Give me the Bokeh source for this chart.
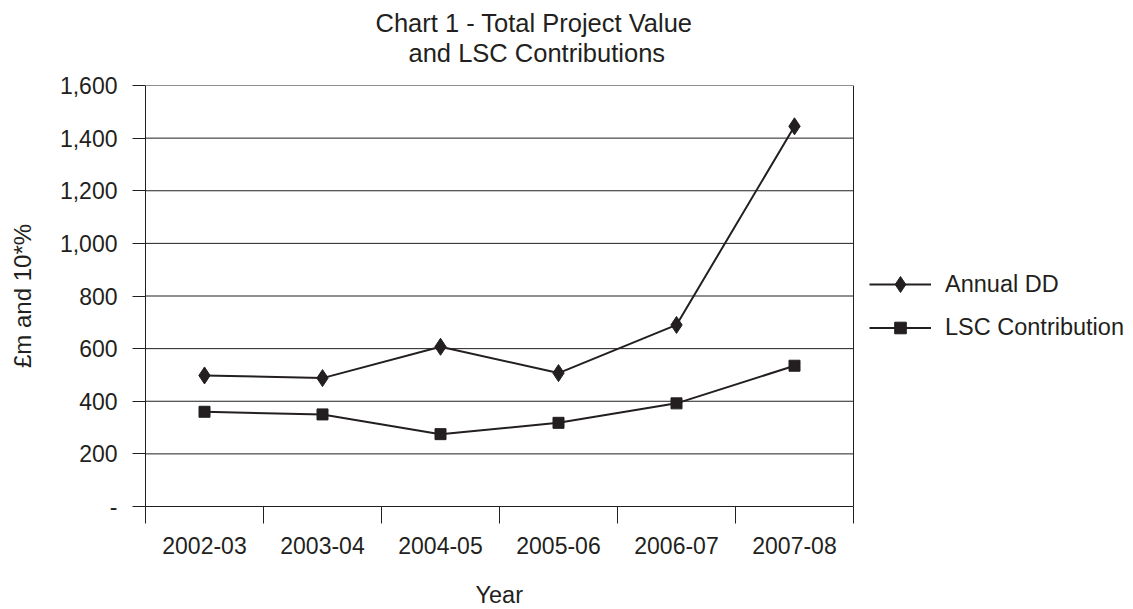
from bokeh.embed import file_html
from bokeh.models import (FixedTicker, Legend, LegendItem,
                          NumeralTickFormatter, Range1d, Title)
from bokeh.plotting import figure
from bokeh.resources import INLINE

# Financial years and the two series (in £m)
years = ["2002-03", "2003-04", "2004-05", "2005-06", "2006-07", "2007-08"]
annual_dd = [498, 488, 607, 507, 690, 1445]
lsc_contribution = [360, 350, 275, 318, 392, 535]

y_ticks = [0, 200, 400, 600, 800, 1000, 1200, 1400, 1600]

INK = "#231F20"
FONT = "Liberation Sans"

# layout (pixels): the chart box is 708 wide; the drawing area carries on
# to the right edge of the page so the legend can sit beside the box
LEFT, BOX_W, FULL_W = 145, 708, 1133 - 145

n = len(years)
x_pos = [i + 0.5 for i in range(n)]      # points in the middle of each slot
x_bounds = list(range(n + 1))            # slot boundaries carry the tick marks

p = figure(width=1133, height=609, output_backend="svg",
           toolbar_location=None, title=None,
           x_range=Range1d(0, n * FULL_W / BOX_W),
           y_range=Range1d(y_ticks[0], y_ticks[-1]),
           min_border_left=LEFT, min_border_right=0,
           min_border_top=85, min_border_bottom=103)
p.background_fill_color = "white"
p.border_fill_color = "white"
p.outline_line_color = None
p.xgrid.visible = False
p.ygrid.visible = False

# chart box: horizontal gridlines (incl. top edge) and the right-hand edge
p.segment(x0=[0] * len(y_ticks), x1=[n] * len(y_ticks), y0=y_ticks, y1=y_ticks,
          line_color=INK, line_width=1)
p.segment(x0=[n], x1=[n], y0=[y_ticks[0]], y1=[y_ticks[-1]],
          line_color=INK, line_width=1)

# x axis: labels centred in each slot, tick marks on slot boundaries
xa = p.xaxis[0]
xa.bounds = (0, n)
xa.ticker = FixedTicker(ticks=x_pos, minor_ticks=x_bounds)
xa.major_label_overrides = {x: y for x, y in zip(x_pos, years)}
xa.major_tick_line_color = None
xa.major_tick_in = 0
xa.major_tick_out = 17
xa.minor_tick_line_color = INK
xa.minor_tick_in = 0
xa.minor_tick_out = 17
xa.axis_line_color = INK
xa.major_label_standoff = 13
xa.major_label_text_font = FONT
xa.major_label_text_font_size = "23px"
xa.major_label_text_color = INK

# y axis
ya = p.yaxis[0]
ya.ticker = FixedTicker(ticks=y_ticks)
ya.formatter = NumeralTickFormatter(format="0,0")
ya.major_label_overrides = {0: "-"}
ya.major_tick_in = 0
ya.major_tick_out = 13
ya.major_tick_line_color = INK
ya.minor_tick_line_color = None
ya.axis_line_color = INK
ya.major_label_standoff = 15
ya.major_label_text_font = FONT
ya.major_label_text_font_size = "23px"
ya.major_label_text_color = INK
ya.axis_label = "£m and 10*%"
ya.axis_label_text_font = FONT
ya.axis_label_text_font_size = "24px"
ya.axis_label_text_font_style = "normal"
ya.axis_label_text_color = INK
ya.axis_label_standoff = 21

# series
dd_line = p.line(x_pos, annual_dd, line_color=INK, line_width=2)
dd_mark = p.scatter(x_pos, annual_dd, marker="diamond", size=17,
                    fill_color=INK, line_color=INK)
lsc_line = p.line(x_pos, lsc_contribution, line_color=INK, line_width=2)
lsc_mark = p.scatter(x_pos, lsc_contribution, marker="square", size=11,
                     fill_color=INK, line_color=INK)


def legend_box(label, renderers, glyph_height, location):
    box = Legend(items=[LegendItem(label=label, renderers=renderers)],
                 location=location, orientation="vertical")
    box.border_line_color = None
    box.background_fill_alpha = 0
    box.glyph_width = 62
    box.glyph_height = glyph_height
    box.label_height = glyph_height
    box.padding = 0
    box.margin = 0
    box.label_standoff = 14
    box.label_text_font = FONT
    box.label_text_font_size = "23.5px"
    box.label_text_color = INK
    return box


# legend entries beside the chart box (taller box -> larger legend marker)
p.add_layout(legend_box("Annual DD", [dd_line, dd_mark], 40, (724, 202)))
p.add_layout(legend_box("LSC Contribution", [lsc_line, lsc_mark], 29, (724, 164)))

# two-line chart title; panels above stack outward from the drawing area,
# so the spacer goes first, then the second line, then the first line
title_style = dict(align="left", standoff=0, text_font=FONT, text_font_size="25.5px",
                   text_font_style="normal", text_color=INK)
p.add_layout(Title(text=" ", align="left", standoff=16, text_font_size="1px"), "above")
p.add_layout(Title(text="and LSC Contributions", offset=263, **title_style), "above")
p.add_layout(Title(text="Chart 1 - Total Project Value", offset=230, **title_style), "above")

# x-axis title, centred under the chart box (below the tick labels)
p.add_layout(Title(text=" ", align="left", standoff=20, text_font_size="1px"), "below")
p.add_layout(Title(text="Year", align="left", offset=330, standoff=0,
                   text_font=FONT, text_font_size="23.5px", text_font_style="normal",
                   text_color=INK), "below")

open("out.html", "w").write(file_html(p, INLINE))
